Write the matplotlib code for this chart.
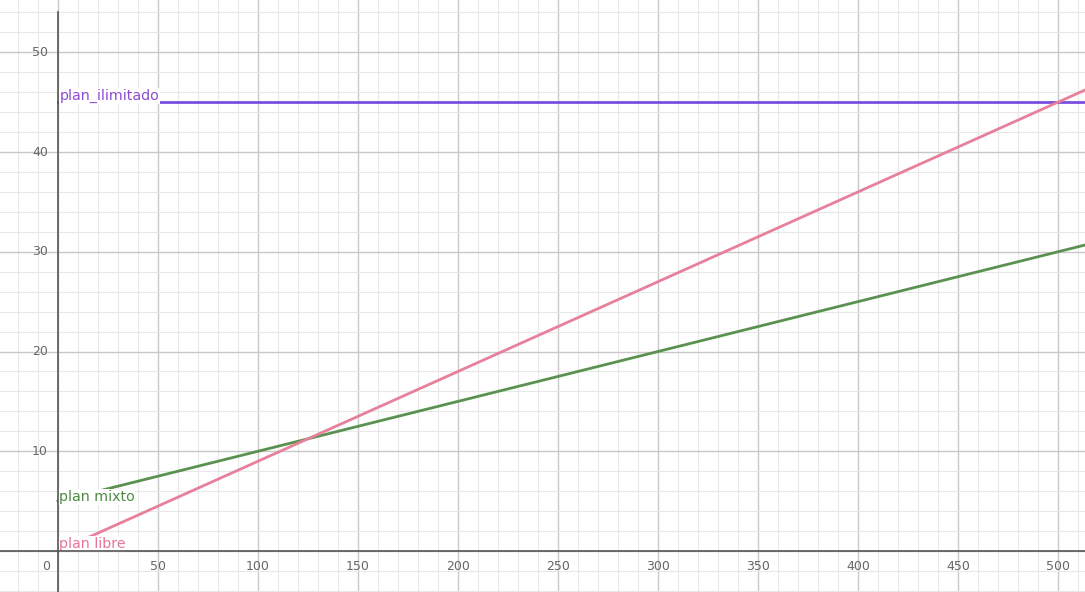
import matplotlib
matplotlib.use("Agg")
import matplotlib.pyplot as plt

# Data
x_range = [0, 520]
plan_libre = [0, 46.8]
plan_mixto = [5, 31.0]
plan_ilimitado = [45, 45]
x_ticks = [50, 100, 150, 200, 250, 300, 350, 400, 450, 500]
y_ticks = [10, 20, 30, 40, 50]

fig = plt.figure(figsize=(10.85, 5.92), dpi=100)
ax = fig.add_axes([0, 0, 1, 1])
ax.set_xlim(-29, 513.5)
ax.set_ylim(-4.11, 55.24)
for s in ax.spines.values():
    s.set_visible(False)
ax.set_xticks([])
ax.set_yticks([])

# grid
for xv in range(-20, 520, 10):
    major = xv % 50 == 0
    ax.axvline(xv, color='#c8c8c8' if major else '#e8e8e8', lw=1.0 if major else 0.8, zorder=0)
for yv in range(-4, 56, 2):
    major = yv % 10 == 0
    ax.axhline(yv, color='#c8c8c8' if major else '#e8e8e8', lw=1.0 if major else 0.8, zorder=0)

# axes
ax.axhline(0, color='#555555', lw=1.2, zorder=5)
ax.plot([0, 0], [-4.11, 54.0], color='#555555', lw=1.2, zorder=5)

# tick labels
for xv in x_ticks:
    ax.text(xv, -0.9, str(xv), ha='center', va='top', fontsize=9, color='#666666')
ax.text(-6, -0.9, '0', ha='center', va='top', fontsize=9, color='#666666')
for yv in y_ticks:
    ax.text(-5, yv, str(yv), ha='right', va='center', fontsize=9, color='#666666')

# lines
ax.plot(x_range, plan_ilimitado, color='#7a4fe0', lw=2, zorder=3)
ax.plot(x_range, plan_mixto, color='#5b9150', lw=2, zorder=3)
ax.plot(x_range, plan_libre, color='#e7809a', lw=2, zorder=3)

# labels
bb = dict(facecolor='white', edgecolor='none', pad=0.5)
ax.text(0.7, 45.25, 'plan_ilimitado', color='#8e4ccf', fontsize=10.3, va='baseline', ha='left', zorder=4, bbox=bb)
ax.text(0.5, 5.0, 'plan mixto', color='#4f8a45', fontsize=10.3, va='baseline', ha='left', zorder=4, bbox=bb)
ax.text(0.5, 0.3, 'plan libre', color='#e57595', fontsize=10.3, va='baseline', ha='left', zorder=4, bbox=bb)

fig.savefig('out.png', dpi=100)
